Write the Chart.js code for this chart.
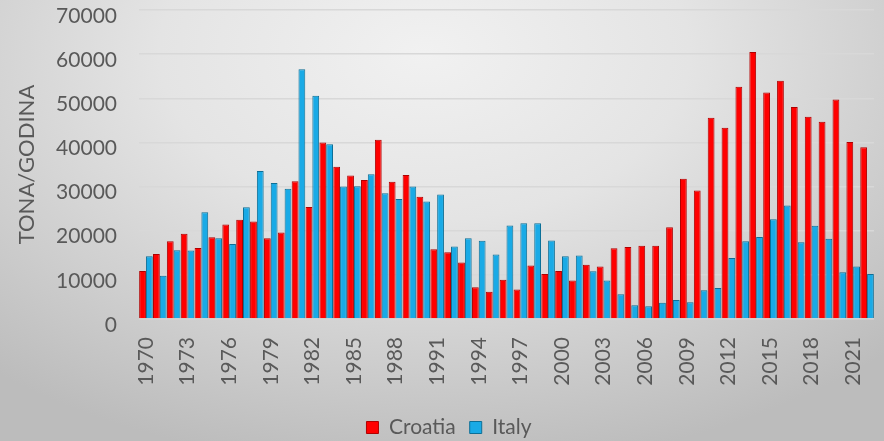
<!DOCTYPE html>
<html>
<head>
<meta charset="utf-8">
<script src="https://cdn.jsdelivr.net/npm/chart.js@4/dist/chart.umd.min.js"></script>
<style>
    html, body {
        margin: 0;
        padding: 0;
    }
    #wrap {
        width: 884px;
        height: 441px;
        background: radial-gradient(ellipse 75% 95% at 48% 12%, #f1f1f1 0%, #e4e4e4 40%, #cdcdcd 75%, #bcbcbc 100%);
    }
</style>
</head>
<body>
<div id="wrap"><canvas id="catchChart" width="884" height="441"></canvas></div>
<script>
// Godišnji ulov, tona/godina
const years = [
    '1970', '1971', '1972', '1973', '1974', '1975', '1976', '1977', '1978', '1979',
    '1980', '1981', '1982', '1983', '1984', '1985', '1986', '1987', '1988', '1989',
    '1990', '1991', '1992', '1993', '1994', '1995', '1996', '1997', '1998', '1999',
    '2000', '2001', '2002', '2003', '2004', '2005', '2006', '2007', '2008', '2009',
    '2010', '2011', '2012', '2013', '2014', '2015', '2016', '2017', '2018', '2019',
    '2020', '2021', '2022'
];

const croatia = [
    10900, 14700, 17600, 19300, 16100, 18500, 21400, 22500, 22100, 18300,
    19600, 31200, 25400, 40000, 34500, 32500, 31500, 40600, 31100, 32600,
    27700, 15800, 15100, 12800, 7200, 6200, 8900, 6700, 12100, 10200,
    10900, 8700, 12300, 11900, 16000, 16300, 16600, 16600, 20800, 31800,
    29100, 45600, 43300, 52600, 60500, 51300, 54000, 48000, 45800, 44700,
    49700, 40100, 38900
];

const italy = [
    14200, 9800, 15600, 15500, 24200, 18300, 17000, 25300, 33500, 30800,
    29500, 56600, 50600, 39600, 30000, 30100, 32800, 28500, 27200, 30000,
    26600, 28200, 16400, 18300, 17700, 14600, 21200, 21700, 21700, 17800,
    14200, 14400, 10800, 8700, 5600, 3100, 2900, 3700, 4300, 3800,
    6500, 7000, 13800, 17600, 18600, 22600, 25700, 17400, 21100, 18200,
    10600, 11900, 10200
];

const yTicks = [0, 10000, 20000, 30000, 40000, 50000, 60000, 70000];

const textColor = '#595959';
const fontFamily = 'Lato, "Open Sans", sans-serif';

// nudge the legend a bit to the right of the default centre
const legendShift = {
    id: 'legendShift',
    afterLayout: function(chart) {
        if (chart.legend) {
            chart.legend.left += 12;
            chart.legend.right += 12;
        }
    }
};

document.addEventListener('DOMContentLoaded', function() {
    const ctx = document.getElementById('catchChart').getContext('2d');
    new Chart(ctx, {
        type: 'bar',
        data: {
            labels: years,
            datasets: [
                {
                    label: 'Croatia',
                    data: croatia,
                    backgroundColor: '#ff0000',
                    borderColor: '#b00000',
                    borderWidth: 1,
                    borderSkipped: 'bottom'
                },
                {
                    label: 'Italy',
                    data: italy,
                    backgroundColor: '#19aae6',
                    borderColor: '#0d6f96',
                    borderWidth: 1,
                    borderSkipped: 'bottom'
                }
            ]
        },
        plugins: [legendShift],
        options: {
            responsive: false,
            animation: false,
            layout: {
                // legend sits low, close to the bottom edge
                padding: { top: 10, right: 10, left: 0, bottom: -7 }
            },
            datasets: {
                bar: {
                    categoryPercentage: 0.98,
                    barPercentage: 1.0
                }
            },
            plugins: {
                legend: {
                    position: 'bottom',
                    labels: {
                        color: textColor,
                        font: { family: fontFamily, size: 21 },
                        boxWidth: 12,
                        boxHeight: 12,
                        padding: 14
                    }
                },
                tooltip: { enabled: false }
            },
            scales: {
                x: {
                    grid: { display: false },
                    border: { display: false },
                    ticks: {
                        color: textColor,
                        font: { family: fontFamily, size: 21 },
                        autoSkip: false,
                        minRotation: 90,
                        maxRotation: 90,
                        padding: 10,
                        callback: function(value, index) {
                            return index % 3 === 0 ? years[index] : '';
                        }
                    },
                    afterFit: function(scale) {
                        scale.height = 84;
                        scale.paddingLeft = 0;
                        scale.paddingRight = 0;
                    }
                },
                y: {
                    min: 0,
                    max: 70000,
                    afterBuildTicks: function(scale) {
                        scale.ticks = yTicks.map(v => ({ value: v }));
                    },
                    grid: {
                        color: '#d8d8d8',
                        lineWidth: 1.5,
                        drawTicks: false
                    },
                    border: { display: false },
                    ticks: {
                        color: textColor,
                        font: { family: fontFamily, size: 21 },
                        padding: 22,
                        labelOffset: 6,
                        callback: function(value) {
                            return String(value);
                        }
                    },
                    title: {
                        display: true,
                        text: 'TONA/GODINA',
                        color: textColor,
                        font: { family: fontFamily, size: 22 },
                        padding: { top: 14, bottom: 0 }
                    },
                    afterFit: function(scale) {
                        scale.width = 139;
                        scale.paddingTop = 0;
                        scale.paddingBottom = 0;
                    }
                }
            }
        }
    });
});
</script>
</body>
</html>
